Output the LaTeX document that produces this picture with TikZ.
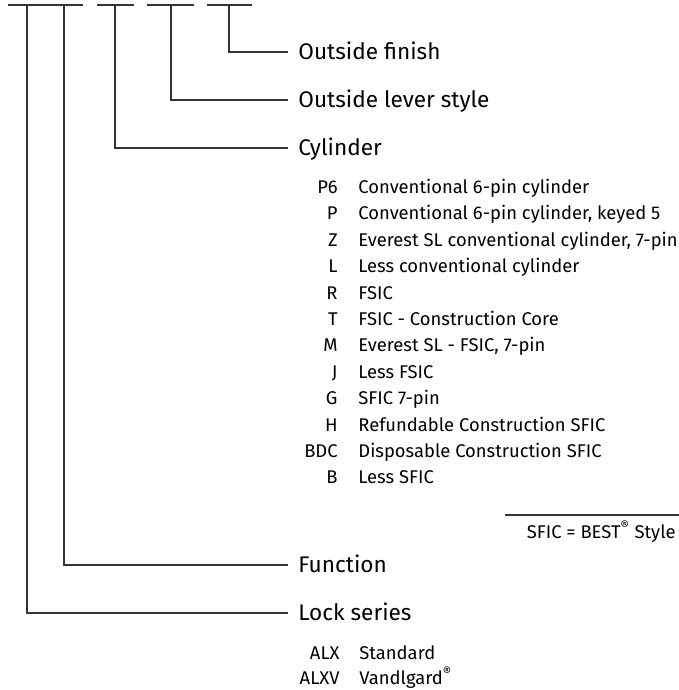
\documentclass[tikz,border=0pt]{standalone}
\usepackage{fontspec}
\setmainfont{Fira Sans}

\begin{document}
\begin{tikzpicture}[
  x=0.5pt, y=-0.5pt,
  font=\fontsize{9.2}{11}\selectfont,
  lead/.style={draw=black!80, line width=0.7pt},
  field/.style={
    anchor=west, inner xsep=5pt, inner ysep=0pt,
    text height=7.8pt, text depth=0pt,
    font=\fontsize{11.3}{14}\selectfont, text=black
  },
  code/.style={anchor=east, inner sep=0pt, text height=6.4pt, text depth=0pt, text=black},
  desc/.style={anchor=west, inner sep=0pt, text height=6.4pt, text depth=0pt, text=black},
]
\useasboundingbox (0,0) rectangle (679,690);

% Slots along the top
\draw[lead] (8,5) -- (83,5);
\draw[lead] (97,5) -- (134,5);
\draw[lead] (147,5) -- (194,5);
\draw[lead] (207,5) -- (252,5);
\coordinate (s_series) at (27,5);
\coordinate (s_func)   at (64,5);
\coordinate (s_cyl)    at (115,5);
\coordinate (s_lever)  at (171,5);
\coordinate (s_finish) at (229,5);

% Field labels
\node[field] (finish) at (288,52)  {Outside finish};
\node[field] (lever)  at (288,100) {Outside lever style};
\node[field] (cyl)    at (288,148) {Cylinder};
\node[field] (func)   at (288,565) {Function};
\node[field] (series) at (288,613) {Lock series};

\draw[lead] (s_finish) |- (finish.west);
\draw[lead] (s_lever)  |- (lever.west);
\draw[lead] (s_cyl)    |- (cyl.west);
\draw[lead] (s_func)   |- (func.west);
\draw[lead] (s_series) |- (series.west);

% Cylinder options
\node[code] (c_p6)  at (338,187) {P6};
\node[desc] (d_p6)  at (358,187) {Conventional 6-pin cylinder};
\node[code] (c_p)   at (338,213) {P};
\node[desc] (d_p)   at (358,213) {Conventional 6-pin cylinder, keyed 5};
\node[code] (c_z)   at (338,240) {Z};
\node[desc] (d_z)   at (358,240) {Everest SL conventional cylinder, 7-pin};
\node[code] (c_l)   at (338,266) {L};
\node[desc] (d_l)   at (358,266) {Less conventional cylinder};
\node[code] (c_r)   at (338,293) {R};
\node[desc] (d_r)   at (358,293) {FSIC};
\node[code] (c_t)   at (338,319) {T};
\node[desc] (d_t)   at (358,319) {FSIC - Construction Core};
\node[code] (c_m)   at (338,345) {M};
\node[desc] (d_m)   at (358,345) {Everest SL - FSIC, 7-pin};
\node[code] (c_j)   at (338,372) {J};
\node[desc] (d_j)   at (358,372) {Less FSIC};
\node[code] (c_g)   at (338,398) {G};
\node[desc] (d_g)   at (358,398) {SFIC 7-pin};
\node[code] (c_h)   at (338,425) {H};
\node[desc] (d_h)   at (358,425) {Refundable Construction SFIC};
\node[code] (c_bdc) at (338,451) {BDC};
\node[desc] (d_bdc) at (358,451) {Disposable Construction SFIC};
\node[code] (c_b)   at (338,477) {B};
\node[desc] (d_b)   at (358,477) {Less SFIC};

% Note
\coordinate (note_l) at (505,515);
\coordinate (note_r) at (679,515);
\draw[lead] (note_l) -- (note_r);
\node[code] (note) at (676,532) {SFIC = BEST\textsuperscript{®} Style};

% Lock series options
\node[code] (c_alx)  at (340,653) {ALX};
\node[desc] (d_alx)  at (359,653) {Standard};
\node[code] (c_alxv) at (340,678) {ALXV};
\node[desc] (d_alxv) at (359,678) {Vandlgard\textsuperscript{®}};

\end{tikzpicture}
\end{document}
